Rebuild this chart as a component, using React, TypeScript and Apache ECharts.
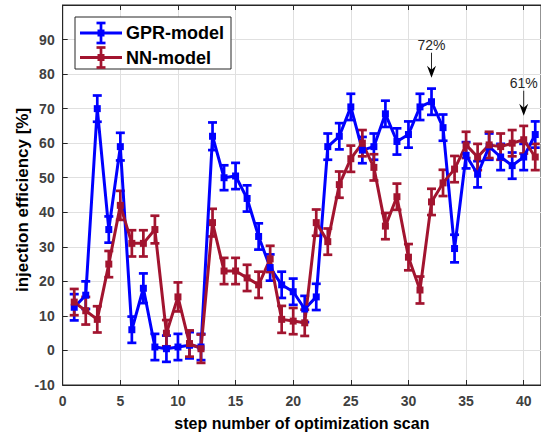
import React, { useEffect, useRef } from 'react';
import * as echarts from 'echarts';

const steps = [1, 2, 3, 4, 5, 6, 7, 8, 9, 10, 11, 12, 13, 14, 15, 16, 17, 18, 19, 20, 21, 22, 23, 24, 25, 26, 27, 28, 29, 30, 31, 32, 33, 34, 35, 36, 37, 38, 39, 40, 41];
const gprValues = [12.5, 16, 70, 35, 59, 6, 18, 1, 0.5, 1, 1.5, 1, 62, 50, 50.5, 44, 33, 24, 19, 17, 12, 15.5, 59, 62, 70.5, 58, 59, 68.5, 60.5, 62.5, 70.5, 72, 64.5, 29.5, 56.5, 51, 59, 56, 53.5, 56, 62.5];
const gprErrors = [3.8, 4, 3.8, 3.8, 4, 3.8, 4.3, 3.8, 3.8, 3.8, 3.8, 3.8, 4, 3.6, 3.8, 3.8, 3.8, 3.8, 3.8, 3.8, 3.8, 3.8, 3.8, 3.8, 3.8, 3.8, 3.8, 3.8, 3.8, 3.8, 3.8, 3.8, 3.8, 4, 3.8, 3.8, 3.8, 3.8, 3.8, 3.8, 3.8];
const nnValues = [14, 11.5, 9, 25, 42, 31, 31, 35, 5, 15.5, 2, 0.5, 37, 23, 23, 21, 19, 26.5, 9, 8.5, 8, 37, 31.5, 48, 55.5, 60, 53, 36, 44.5, 27, 17.5, 43, 48.5, 52.5, 59.5, 56, 59.5, 59, 60, 61, 56];
const nnErrors = [3.8, 4, 3.8, 3.8, 4.2, 3.8, 3.8, 4, 3.8, 4.2, 3.8, 4.1, 4, 3.8, 3.8, 3.8, 3.8, 3.8, 3.9, 3.8, 3.8, 3.8, 3.8, 3.8, 3.8, 3.8, 3.8, 3.8, 3.8, 3.8, 3.9, 3.8, 3.8, 3.8, 3.8, 3.8, 3.8, 3.8, 3.8, 4, 3.8];
const seriesNames = ['GPR-model', 'NN-model'];
const annotationSteps = [32, 40];
const annotationValues = [72, 61];
const annotationLabels = ['72%', '61%'];
const yAxisTitle = 'injection efficiency [%]';
const xAxisTitle = 'step number of optimization scan';

const BLUE = '#0000ff';
const RED = '#a2142f';
const AXIS = '#262626';
const FONT = '"Liberation Sans", Arial, Helvetica, sans-serif';

function errorBarSeries(name: string, values: number[], errors: number[], color: string) {
  return {
    type: 'custom',
    name,
    silent: true,
    data: steps.map((s, i) => [s, values[i] - errors[i], values[i] + errors[i]]),
    encode: { x: 0, y: [1, 2] },
    renderItem: (params: any, api: any) => {
      const x = api.value(0);
      const lo = api.coord([x, api.value(1)]);
      const hi = api.coord([x, api.value(2)]);
      const hw = 4.5;
      const st = { stroke: color, lineWidth: 2.7 };
      return {
        type: 'group',
        children: [
          { type: 'line', shape: { x1: hi[0], y1: hi[1], x2: lo[0], y2: lo[1] }, style: st },
          { type: 'line', shape: { x1: hi[0] - hw, y1: hi[1], x2: hi[0] + hw, y2: hi[1] }, style: st },
          { type: 'line', shape: { x1: lo[0] - hw, y1: lo[1], x2: lo[0] + hw, y2: lo[1] }, style: st },
        ],
      };
    },
  };
}

function lineSeries(name: string, values: number[], color: string) {
  return {
    type: 'line',
    name,
    data: steps.map((s, i) => [s, values[i]]),
    symbol: 'rect',
    symbolSize: 7,
    showAllSymbol: true,
    lineStyle: { color, width: 3 },
    itemStyle: { color },
    silent: true,
  };
}

function legendEntry(y: number, color: string, label: string) {
  const st = { stroke: color, lineWidth: 2.7 };
  return [
    { type: 'line', shape: { x1: 80, y1: y, x2: 122, y2: y }, style: { stroke: color, lineWidth: 3 } },
    { type: 'line', shape: { x1: 101, y1: y - 10, x2: 101, y2: y + 10 }, style: st },
    { type: 'line', shape: { x1: 96.5, y1: y - 10, x2: 105.5, y2: y - 10 }, style: st },
    { type: 'line', shape: { x1: 96.5, y1: y + 10, x2: 105.5, y2: y + 10 }, style: st },
    { type: 'rect', shape: { x: 97.5, y: y - 3.5, width: 7, height: 7 }, style: { fill: color } },
    {
      type: 'text',
      x: 126,
      y,
      style: { text: label, fill: '#000', font: `bold 18px ${FONT}`, verticalAlign: 'middle', align: 'left' },
    },
  ];
}

export default function App() {
  const ref = useRef<HTMLDivElement>(null);
  useEffect(() => {
    if (!ref.current) return;
    const chart = echarts.init(ref.current, undefined, { renderer: 'svg' });
    const axisCommon = {
      axisLine: { show: true, onZero: false, lineStyle: { color: AXIS, width: 1 } },
      axisTick: { show: true, inside: true, length: 5, lineStyle: { color: AXIS } },
    };
    chart.setOption({
      animation: false,
      backgroundColor: '#fff',
      grid: { left: 62.7, right: -1.4, top: 5, bottom: 50, show: true, borderColor: AXIS, borderWidth: 1 },
      xAxis: [
        {
          type: 'value',
          min: 0,
          max: 41.5,
          interval: 5,
          position: 'bottom',
          ...axisCommon,
          axisLabel: { color: '#404040', fontFamily: FONT, fontWeight: 'bold', fontSize: 14, margin: 9, showMaxLabel: false },
          splitLine: { show: true, lineStyle: { color: '#e0e0e0', width: 1 } },
          name: xAxisTitle,
          nameLocation: 'middle',
          nameGap: 30,
          nameTextStyle: { color: '#000', fontFamily: FONT, fontWeight: 'bold', fontSize: 16 },
        },
        {
          type: 'value',
          min: 0,
          max: 41.5,
          interval: 5,
          position: 'top',
          ...axisCommon,
          axisLabel: { show: false },
          splitLine: { show: false },
        },
      ],
      yAxis: {
        type: 'value',
        min: -10,
        max: 100,
        interval: 10,
        ...axisCommon,
        axisLabel: { color: '#404040', fontFamily: FONT, fontWeight: 'bold', fontSize: 14, margin: 8, showMaxLabel: false },
        splitLine: { show: true, lineStyle: { color: '#e0e0e0', width: 1 } },
      },
      series: [
        errorBarSeries(seriesNames[0], gprValues, gprErrors, BLUE),
        lineSeries(seriesNames[0], gprValues, BLUE),
        errorBarSeries(seriesNames[1], nnValues, nnErrors, RED),
        lineSeries(seriesNames[1], nnValues, RED),
      ],
    });

    const annotations: any[] = [];
    annotationSteps.forEach((s, i) => {
      const p = chart.convertToPixel({ xAxisIndex: 0, yAxisIndex: 0 }, [s, annotationValues[i]]) as number[];
      const tipY = p[1] - 24;
      const topY = tipY - 25;
      annotations.push(
        { type: 'line', shape: { x1: p[0], y1: topY, x2: p[0], y2: tipY - 6 }, style: { stroke: AXIS, lineWidth: 1 } },
        {
          type: 'polygon',
          shape: { points: [[p[0], tipY], [p[0] - 4.5, tipY - 12], [p[0], tipY - 8], [p[0] + 4.5, tipY - 12]] },
          style: { fill: '#000' },
        },
        {
          type: 'text',
          x: p[0],
          y: topY - 8,
          style: { text: annotationLabels[i], fill: '#262626', font: `14px ${FONT}`, align: 'center', verticalAlign: 'middle' },
        }
      );
    });

    chart.setOption({
      graphic: [
        {
          type: 'text',
          x: 22,
          y: 200,
          rotation: Math.PI / 2,
          style: { text: yAxisTitle, fill: '#000', font: `bold 17px ${FONT}`, align: 'center', verticalAlign: 'middle' },
          z: 11,
        },
        {
          type: 'rect',
          shape: { x: 75, y: 17, width: 156, height: 52 },
          style: { fill: '#fff', stroke: AXIS, lineWidth: 1 },
          z: 10,
        },
        ...legendEntry(33, BLUE, seriesNames[0]).map((e) => ({ ...e, z: 11 })),
        ...legendEntry(57.5, RED, seriesNames[1]).map((e) => ({ ...e, z: 11 })),
        ...annotations.map((e) => ({ ...e, z: 11 })),
      ],
    });
    return () => chart.dispose();
  }, []);
  return <div ref={ref} style={{ position: 'fixed', left: 0, top: 0, width: 541, height: 436 }} />;
}
